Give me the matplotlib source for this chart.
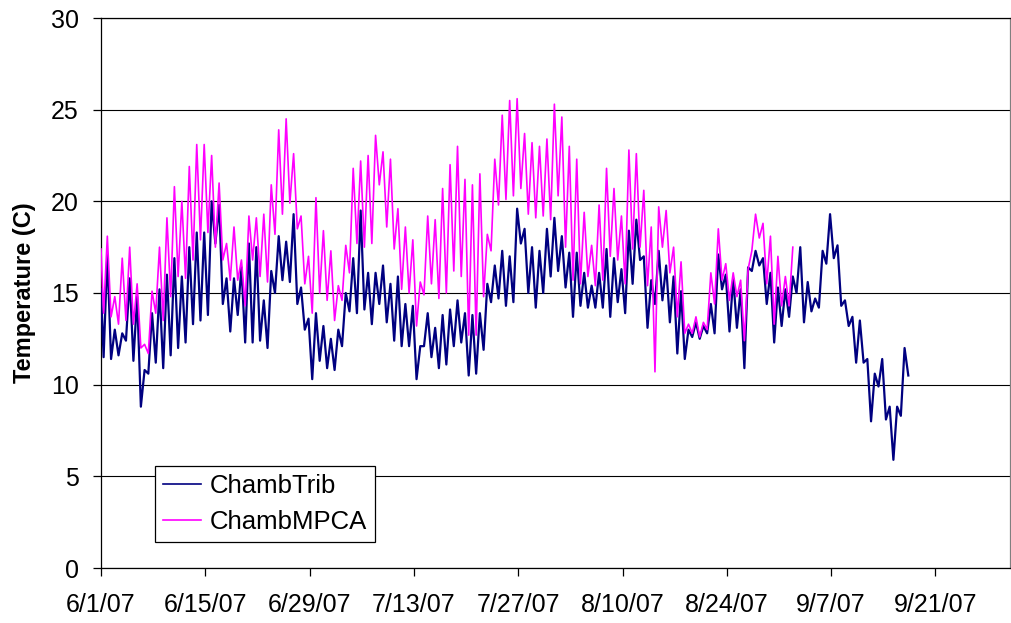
import matplotlib
matplotlib.use('Agg')
import matplotlib.pyplot as plt
import numpy as np
import pandas as pd

plt.rcParams['font.family'] = ['Liberation Sans', 'DejaVu Sans']

# daily low / high temperatures, day 0 = 6/1/07
trib_start = 15.2
trib_min = [11.5, 11.4, 11.6, 12.4, 11.3, 8.8, 10.6, 11.2, 10.9, 11.6,
            12.0, 12.3, 13.3, 13.5, 13.8, 17.7, 14.4, 12.9, 13.8, 12.3,
            12.3, 12.4, 12.0, 15.0, 15.7, 15.6, 14.4, 13.0, 10.3, 11.3,
            10.9, 10.8, 12.1, 14.0, 13.9, 14.1, 13.3, 14.4, 13.4, 12.4,
            12.1, 12.1, 10.3, 12.1, 11.5, 10.9, 11.1, 12.1, 12.3, 10.5,
            10.6, 11.9, 14.5, 14.7, 14.3, 14.5, 17.7, 15.0, 14.2, 15.0,
            15.9, 16.2, 15.3, 13.7, 14.3, 14.2, 14.2, 14.2, 13.7, 14.5,
            13.9, 15.5, 16.8, 13.1, 14.4, 14.6, 13.4, 11.7, 11.4, 12.6,
            12.5, 12.8, 12.8, 15.2, 12.9, 13.1, 10.9, 16.2, 16.5, 14.4,
            12.3, 13.2, 13.7, 15.0, 13.4, 14.0, 14.2, 16.6, 16.9, 14.3,
            13.2, 11.2, 11.2, 8.0, 9.9, 8.1, 5.9, 8.3, 10.5]
trib_max = [17.1, 13.0, 12.8, 15.8, 14.8, 10.8, 13.9, 15.2, 16.0, 16.9,
            15.9, 17.5, 18.3, 18.3, 20.0, 19.8, 15.8, 15.8, 16.4, 17.7,
            17.5, 14.6, 16.2, 18.1, 17.8, 19.3, 15.3, 13.6, 13.9, 13.2,
            12.5, 13.0, 15.0, 16.9, 19.5, 16.1, 16.1, 16.5, 15.5, 15.9,
            14.4, 14.3, 12.1, 13.9, 13.1, 13.8, 14.1, 14.6, 13.9, 13.8,
            13.9, 15.5, 16.5, 17.3, 17.0, 19.6, 18.5, 17.5, 17.3, 18.5,
            19.1, 18.1, 17.2, 17.2, 16.1, 15.4, 16.1, 17.4, 16.9, 16.3,
            18.4, 19.0, 17.0, 15.7, 17.3, 16.5, 15.9, 15.1, 13.0, 13.4,
            13.2, 14.4, 17.1, 16.0, 15.8, 15.2, 16.4, 17.3, 16.9, 16.1,
            15.3, 15.2, 15.9, 17.5, 15.6, 14.7, 17.3, 19.3, 17.6, 14.6,
            13.7, 13.5, 11.4, 10.6, 11.4, 8.8, 8.8, 12.0]

mpca_start = 17.4
mpca_min = [13.9, 13.7, 13.3, 13.5, 13.3, 12.0, 11.7, 13.9, 13.5, 14.8,
            15.9, 15.8, 16.8, 17.9, 18.3, 17.5, 16.8, 15.7, 15.7, 14.3,
            16.8, 15.9, 15.6, 18.2, 19.3, 19.9, 18.5, 15.5, 13.9, 15.0,
            14.6, 13.5, 14.6, 16.1, 17.7, 17.5, 17.7, 20.9, 18.6, 17.4,
            15.2, 15.0, 13.2, 14.9, 15.5, 14.7, 15.0, 16.2, 15.9, 12.7,
            12.7, 14.8, 17.3, 19.8, 20.1, 20.3, 20.7, 19.3, 19.1, 19.2,
            19.0, 20.3, 17.5, 15.7, 15.5, 15.9, 15.4, 15.7, 17.0, 16.8,
            15.5, 17.4, 17.5, 15.4, 10.7, 17.5, 16.1, 13.7, 12.8, 12.8,
            12.6, 13.0, 14.4, 15.7, 14.6, 14.8, 12.4, 17.3, 18.0, 15.5,
            13.3, 14.3, 14.3]
mpca_max = [18.1, 14.8, 16.9, 17.5, 15.5, 12.2, 15.1, 17.5, 19.1, 20.8,
            20.0, 21.9, 23.1, 23.1, 22.5, 21.0, 17.7, 18.6, 16.8, 19.2,
            19.1, 19.3, 20.9, 23.9, 24.5, 22.6, 19.2, 17.0, 20.2, 18.4,
            17.3, 15.4, 17.6, 21.8, 22.2, 22.5, 23.6, 22.7, 22.3, 19.6,
            18.6, 17.9, 15.6, 19.2, 19.0, 20.7, 22.0, 23.0, 21.2, 20.9,
            21.5, 18.2, 22.3, 24.7, 25.5, 25.6, 23.7, 23.2, 23.0, 23.4,
            25.3, 24.6, 23.0, 22.3, 19.4, 17.6, 19.8, 21.8, 20.7, 19.2,
            22.8, 22.6, 20.6, 18.6, 19.7, 19.5, 17.5, 16.7, 13.3, 13.7,
            13.4, 16.1, 18.5, 16.6, 16.1, 15.7, 16.3, 19.3, 18.8, 18.1,
            17.0, 15.9, 17.5]

tick_labels = ['6/1/07', '6/15/07', '6/29/07', '7/13/07', '7/27/07',
               '8/10/07', '8/24/07', '9/7/07', '9/21/07']

start = pd.Timestamp('2007-06-01')


def build_series(first, lows, highs):
    # lows come early in the day, highs late in the day
    times = [0.0]
    vals = [first]
    for d in range(len(lows)):
        times.append(d + 0.35)
        vals.append(lows[d])
        if d < len(highs):
            times.append(d + 0.85)
            vals.append(highs[d])
    return start + pd.to_timedelta(np.array(times), unit='D'), vals


t_trib, v_trib = build_series(trib_start, trib_min, trib_max)
t_mpca, v_mpca = build_series(mpca_start, mpca_min, mpca_max)

fig = plt.figure(figsize=(10.12, 6.23), dpi=100)
ax = fig.add_axes([101 / 1012, 1 - 568 / 623, 909 / 1012, 550 / 623])

ax.plot(t_trib, v_trib, color='#000080', lw=1.6, label='ChambTrib', zorder=3)
ax.plot(t_mpca, v_mpca, color='#FF00FF', lw=1.2, label='ChambMPCA', zorder=4)

ax.set_ylim(0, 30)
ax.set_yticks(range(0, 31, 5))
ax.set_xlim(start, start + pd.Timedelta(days=122))
ax.set_xticks(pd.date_range(start, periods=len(tick_labels), freq='14D'))
ax.set_xticklabels(tick_labels)

ax.yaxis.grid(True, color='black', lw=0.8)
ax.set_axisbelow(True)
for side in ['left', 'bottom', 'top']:
    ax.spines[side].set_color('black')
    ax.spines[side].set_linewidth(0.9)
ax.spines['right'].set_color('#808080')
ax.spines['right'].set_linewidth(0.9)

ax.tick_params(axis='both', labelsize=18, direction='out', length=6,
               width=0.9, color='black')
ax.tick_params(axis='x', pad=12)
ax.tick_params(axis='y', pad=10)

ax.set_ylabel('Temperature (C)', fontsize=17, fontweight='bold')
ax.yaxis.set_label_coords(-0.072, 0.5)

leg = ax.legend(loc='lower left', bbox_to_anchor=(0.0594, 0.047),
                borderaxespad=0, fontsize=18.5, frameon=True, fancybox=False,
                edgecolor='black', handlelength=1.5, handletextpad=0.35,
                labelspacing=0.5, borderpad=0.3, framealpha=1)
leg.get_frame().set_linewidth(0.9)
for line in leg.get_lines():
    line.set_linewidth(1.2)

fig.savefig('out.png', dpi=100)
